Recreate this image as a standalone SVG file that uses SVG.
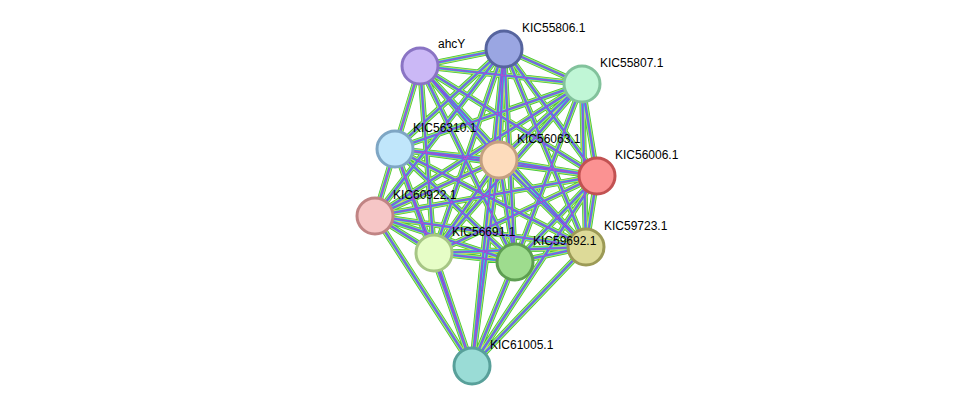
<svg xmlns="http://www.w3.org/2000/svg" xmlns:xlink="http://www.w3.org/1999/xlink" width="976" height="412" viewBox="0 0 976 412">
<style>
text{font-family:"Liberation Sans",Arial,sans-serif;font-size:12px;fill:#000}
.n{stroke-width:3}
</style>
<defs>
<g id="E" fill="none">
<path d="M420 66L504 49M420 66L582 84M420 66L395 149M420 66L499 160M420 66L597 176M420 66L375 216M420 66L434 253M420 66L515 262M420 66L586 247
M504 49L582 84M504 49L395 149M504 49L499 160M504 49L597 176M504 49L375 216M504 49L434 253M504 49L515 262M504 49L586 247M504 49L472 366
M582 84L395 149M582 84L499 160M582 84L597 176M582 84L375 216M582 84L434 253M582 84L515 262M582 84L586 247
M395 149L499 160M395 149L597 176M395 149L375 216M395 149L434 253M395 149L515 262M395 149L586 247M395 149L472 366
M499 160L597 176M499 160L375 216M499 160L434 253M499 160L515 262M499 160L586 247M499 160L472 366
M597 176L375 216M597 176L434 253M597 176L515 262M597 176L586 247M597 176L472 366
M375 216L434 253M375 216L515 262M375 216L586 247M375 216L472 366
M434 253L515 262M434 253L586 247M434 253L472 366
M515 262L586 247M515 262L472 366M586 247L472 366"/>
</g>
</defs>
<rect width="976" height="412" fill="#fff"/>
<g id="connectors">
<use xlink:href="#E" stroke="#3ec83e" stroke-width="6"/>
<use xlink:href="#E" stroke="#e0e050" stroke-width="4.4"/>
<use xlink:href="#E" stroke="#3ac8d8" stroke-width="3"/>
<use xlink:href="#E" stroke="#5a5ae8" stroke-width="1.6"/>
<use xlink:href="#E" stroke="#d050c8" stroke-width="0.8" opacity="0.8"/>
</g>
<g id="ahcY"><circle class="n" cx="420" cy="66" r="18" fill="#cbb8f6" stroke="#8a74c4"/><text x="438" y="48">ahcY</text></g>
<g id="KIC55806.1"><circle class="n" cx="504" cy="49" r="18" fill="#9aa6e2" stroke="#56649e"/><text x="522" y="32">KIC55806.1</text></g>
<g id="KIC55807.1"><circle class="n" cx="582" cy="84" r="18" fill="#c0f6d6" stroke="#82c29c"/><text x="600" y="67">KIC55807.1</text></g>
<g id="KIC56006.1"><circle class="n" cx="597" cy="176" r="18" fill="#fb9292" stroke="#c25252"/><text x="615" y="159">KIC56006.1</text></g>
<g id="KIC59723.1"><circle class="n" cx="586" cy="247" r="18" fill="#ddda98" stroke="#9c9a56"/><text x="604" y="230">KIC59723.1</text></g>
<g id="KIC61005.1"><circle class="n" cx="472" cy="366" r="18" fill="#9adcd6" stroke="#58a09a"/><text x="490" y="349">KIC61005.1</text></g>
<g id="KIC60922.1"><circle class="n" cx="375" cy="216" r="18" fill="#f6c6c6" stroke="#c08484"/><text x="393" y="199">KIC60922.1</text></g>
<g id="KIC59692.1"><circle class="n" cx="515" cy="262" r="18" fill="#9edc8e" stroke="#5e9e52"/><text x="533" y="245">KIC59692.1</text></g>
<g id="KIC56691.1"><circle class="n" cx="434" cy="253" r="18" fill="#e6fdc6" stroke="#a6c684"/><text x="452" y="236">KIC56691.1</text></g>
<g id="KIC56310.1"><circle class="n" cx="395" cy="149" r="18" fill="#c0e6fb" stroke="#7ea6c4"/><text x="413" y="132">KIC56310.1</text></g>
<g id="KIC56063.1"><circle class="n" cx="499" cy="160" r="18" fill="#fddcbc" stroke="#c4a080"/><text x="517" y="143">KIC56063.1</text></g>
</svg>
